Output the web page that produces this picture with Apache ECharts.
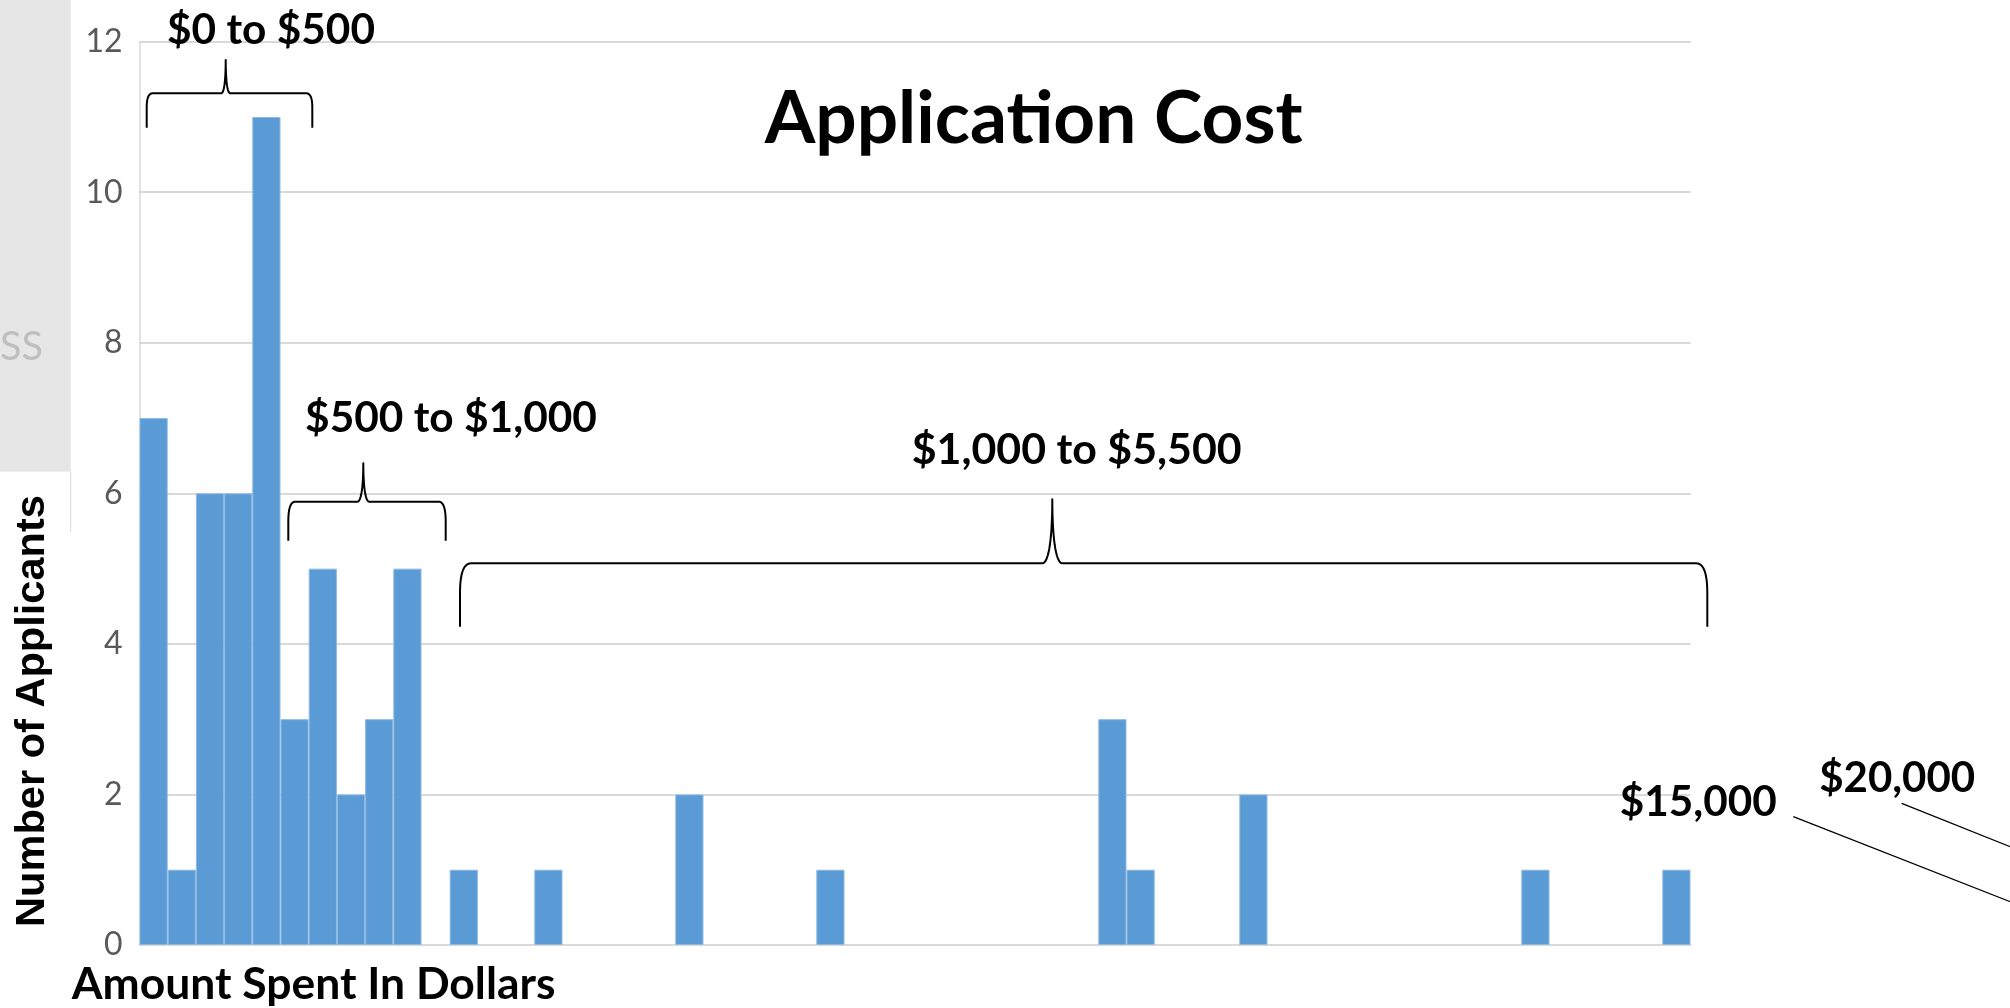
<!DOCTYPE html>
<html><head><meta charset="utf-8">
<script src="https://cdn.jsdelivr.net/npm/echarts@6/dist/echarts.min.js"></script>
<style>html,body{margin:0;padding:0;background:#fff}#c{width:2010px;height:1008px}</style>
</head><body><div id="c"></div>
<script>
// ---- data ----
const categories = ["$0","$100","$200","$300","$400","$500","$600","$700","$800","$900",
  "$1,000","$1,100","$1,200","$1,300","$1,400","$1,500","$1,600","$1,700","$1,800","$1,900",
  "$2,000","$2,100","$2,200","$2,300","$2,400","$2,500","$2,600","$2,700","$2,800","$2,900",
  "$3,000","$3,100","$3,200","$3,300","$3,400","$3,500","$3,600","$3,700","$3,800","$3,900",
  "$4,000","$4,100","$4,200","$4,300","$4,400","$4,500","$4,600","$4,700","$4,800","$4,900",
  "$5,000","$5,100","$5,200","$5,300","$5,400"];
const applicants = [7,1,6,6,11,3,5,2,3,5,
  0,1,0,0,1,0,0,0,0,2,
  0,0,0,0,1,0,0,0,0,0,
  0,0,0,0,3,1,0,0,0,2,
  0,0,0,0,0,0,0,0,0,1,
  0,0,0,0,1];
const yMin = 0, yMax = 12, yStep = 2;
const titleText = "Application Cost";
const xTitle = "Amount Spent In Dollars";
const yTitle = "Number of Applicants";
const rangeLabels = ["$0 to $500", "$500 to $1,000", "$1,000 to $5,500"];
const outlierLabels = ["$15,000", "$20,000"];
const sideText = "SS";

// ---- layout helpers ----
const FONT = '"Lato", "Open Sans", sans-serif';
const mctx = document.createElement('canvas').getContext('2d');
function fitSize(text, weight, family, targetW) {
  mctx.font = weight + ' 100px ' + family;
  return 100 * targetW / mctx.measureText(text).width;
}
function label(text, cx, cy, w, opts) {
  opts = opts || {};
  const weight = opts.weight || 'bold';
  const fam = opts.family || FONT;
  const fs = fitSize(text, weight, fam, w);
  return {
    type: 'text', x: cx, y: cy, rotation: opts.rotation || 0, z: 10,
    style: {
      text: text, fill: opts.color || '#000', fontFamily: fam, fontWeight: weight,
      fontSize: fs, align: opts.align || 'center', verticalAlign: 'middle'
    }
  };
}
function quadPts(p0, p1, p2, n) {
  const out = [];
  for (let i = 1; i <= n; i++) {
    const t = i / n, u = 1 - t;
    out.push([u*u*p0[0] + 2*u*t*p1[0] + t*t*p2[0], u*u*p0[1] + 2*u*t*p1[1] + t*t*p2[1]]);
  }
  return out;
}
function cubicPts(p0, p1, p2, p3, n) {
  const out = [];
  for (let i = 1; i <= n; i++) {
    const t = i / n, u = 1 - t;
    out.push([
      u*u*u*p0[0] + 3*u*u*t*p1[0] + 3*u*t*t*p2[0] + t*t*t*p3[0],
      u*u*u*p0[1] + 3*u*u*t*p1[1] + 3*u*t*t*p2[1] + t*t*t*p3[1]
    ]);
  }
  return out;
}
function bracePoints(b) {
  const h = b.yH - b.yp;
  let pts = [[b.x1, b.yEnd], [b.x1, b.yH + b.ry]];
  pts = pts.concat(quadPts([b.x1, b.yH + b.ry], [b.x1, b.yH], [b.x1 + b.rx, b.yH], 16));
  pts.push([b.xp - b.rp, b.yH]);
  pts = pts.concat(cubicPts([b.xp - b.rp, b.yH], [b.xp - b.rp * 0.3, b.yH], [b.xp, b.yH - h * 0.45], [b.xp, b.yp], 16));
  pts = pts.concat(cubicPts([b.xp, b.yp], [b.xp, b.yH - h * 0.45], [b.xp + b.rp * 0.3, b.yH], [b.xp + b.rp, b.yH], 16));
  pts.push([b.x2 - b.rx, b.yH]);
  pts = pts.concat(quadPts([b.x2 - b.rx, b.yH], [b.x2, b.yH], [b.x2, b.yH + b.ry], 16));
  pts.push([b.x2, b.yEnd]);
  return pts;
}
const braces = [
  {x1: 146.7, x2: 312.3, yEnd: 127.7, yH: 93.3, xp: 225.7, yp: 60, rx: 6, ry: 14, rp: 4.5},
  {x1: 288.3, x2: 445.7, yEnd: 540.7, yH: 501.7, xp: 363.3, yp: 463.3, rx: 7, ry: 20, rp: 6},
  {x1: 460, x2: 1707.3, yEnd: 626.7, yH: 563.3, xp: 1052.3, yp: 499.3, rx: 11, ry: 30, rp: 10}
];

const titleSize = fitSize(titleText, 'bold', FONT, 538);
const tickSize = 32;

const graphics = [
  {type: 'rect', z: 0, shape: {x: 0, y: 0, width: 70.7, height: 471.7}, style: {fill: '#e6e6e6'}},
  {type: 'line', z: 0, shape: {x1: 70.7, y1: 471.7, x2: 70.7, y2: 531.7}, style: {stroke: '#d9d9d9', lineWidth: 1}},
  label(sideText, 43, 347.5, 43, {weight: 'normal', color: '#bfbfbf', align: 'right'}),
  label(rangeLabels[0], 271, 30.8, 208),
  label(rangeLabels[1], 451, 418.3, 292),
  label(rangeLabels[2], 1076.7, 450, 330),
  label(outlierLabels[0], 1698.3, 802.5, 157),
  label(outlierLabels[1], 1897.2, 778.3, 156),
  label(xTitle, 313.6, 984.2, 484),
  label(yTitle, 33, 711, 432, {family: '"Liberation Sans", Arial, sans-serif', rotation: Math.PI / 2}),
  {type: 'line', z: 10, shape: {x1: 1793.3, y1: 816.7, x2: 2030, y2: 909.5}, style: {stroke: '#000', lineWidth: 1.3}},
  {type: 'line', z: 10, shape: {x1: 1901.7, y1: 803.3, x2: 2030, y2: 854.6}, style: {stroke: '#000', lineWidth: 1.3}}
].concat(braces.map(b => ({
  type: 'polyline', z: 10, shape: {points: bracePoints(b)},
  style: {stroke: '#000', lineWidth: 2, fill: null, lineJoin: 'round'}
})));

const chart = echarts.init(document.getElementById('c'), null, {renderer: 'canvas'});
chart.setOption({
  animation: false,
  backgroundColor: '#fff',
  title: {
    text: titleText, left: 764.7, top: 119.5 - titleSize / 2, padding: 0,
    textStyle: {fontFamily: FONT, fontWeight: 'bold', fontSize: titleSize, color: '#000'}
  },
  grid: {left: 139.5, right: 319.5, top: 41.7, bottom: 63, containLabel: false, outerBoundsMode: 'none'},
  xAxis: {
    type: 'category', data: categories, boundaryGap: true,
    axisLine: {show: true, lineStyle: {color: '#d9d9d9', width: 2}},
    axisTick: {show: false}, axisLabel: {show: false}, splitLine: {show: false}
  },
  yAxis: {
    type: 'value', min: yMin, max: yMax, interval: yStep,
    axisLine: {show: true, lineStyle: {color: '#d9d9d9', width: 1.5}},
    axisTick: {show: false},
    axisLabel: {color: '#595959', fontFamily: FONT, fontSize: tickSize, margin: 17},
    splitLine: {lineStyle: {color: '#d9d9d9', width: 2}}
  },
  series: [{
    type: 'bar', name: yTitle, barCategoryGap: '0%', barGap: '0%',
    data: applicants.map(v => ({value: v, itemStyle: v ? {} : {borderWidth: 0}})),
    itemStyle: {color: '#5b9bd5', borderColor: '#8db9e2', borderWidth: 1}
  }],
  graphic: graphics
});
</script>
</body></html>
